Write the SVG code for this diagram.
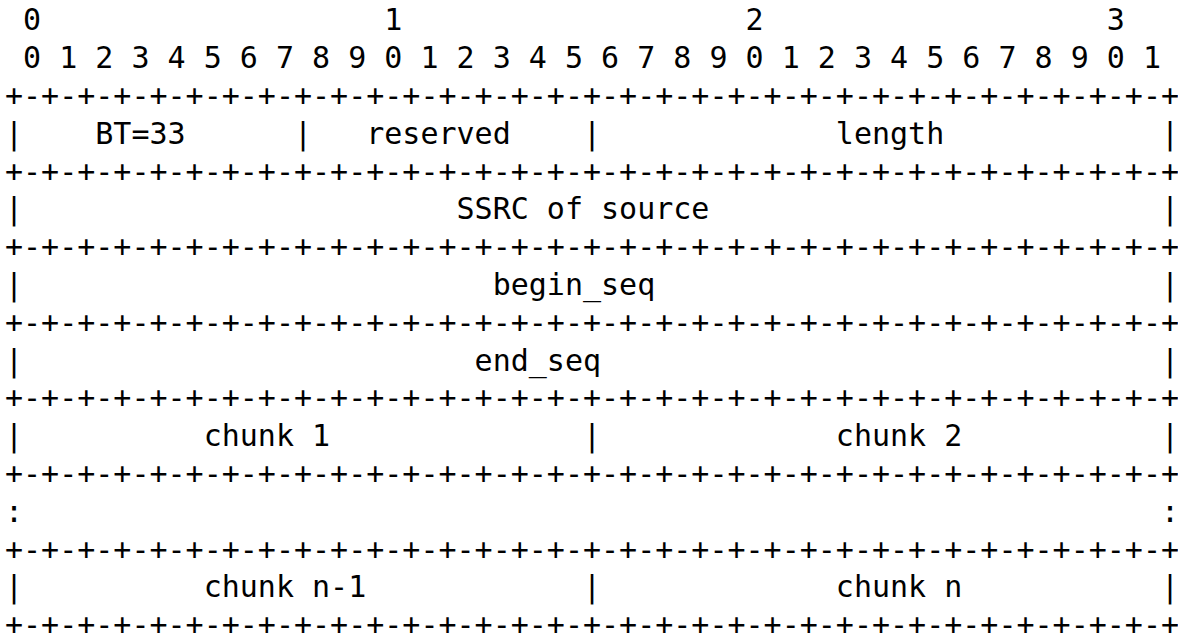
<svg xmlns="http://www.w3.org/2000/svg" width="1178" height="633" viewBox="0 0 1178 633">
  <style>
    .t { font-family: "DejaVu Sans Mono", "Liberation Mono", monospace; font-size: 30px; fill: #000; white-space: pre; }
  </style>
  <rect width="1178" height="633" fill="#fff"/>
  <!-- bit ruler -->
  <g id="ruler">
    <text class="t" x="5" y="30.4" xml:space="preserve"> 0                   1                   2                   3</text>
    <text class="t" x="5" y="68.2" xml:space="preserve"> 0 1 2 3 4 5 6 7 8 9 0 1 2 3 4 5 6 7 8 9 0 1 2 3 4 5 6 7 8 9 0 1</text>
  </g>
  <!-- row separators -->
  <g id="borders">
    <text class="t" x="5" y="106" xml:space="preserve">+-+-+-+-+-+-+-+-+-+-+-+-+-+-+-+-+-+-+-+-+-+-+-+-+-+-+-+-+-+-+-+-+</text>
    <text class="t" x="5" y="181.6" xml:space="preserve">+-+-+-+-+-+-+-+-+-+-+-+-+-+-+-+-+-+-+-+-+-+-+-+-+-+-+-+-+-+-+-+-+</text>
    <text class="t" x="5" y="257.2" xml:space="preserve">+-+-+-+-+-+-+-+-+-+-+-+-+-+-+-+-+-+-+-+-+-+-+-+-+-+-+-+-+-+-+-+-+</text>
    <text class="t" x="5" y="332.8" xml:space="preserve">+-+-+-+-+-+-+-+-+-+-+-+-+-+-+-+-+-+-+-+-+-+-+-+-+-+-+-+-+-+-+-+-+</text>
    <text class="t" x="5" y="408.4" xml:space="preserve">+-+-+-+-+-+-+-+-+-+-+-+-+-+-+-+-+-+-+-+-+-+-+-+-+-+-+-+-+-+-+-+-+</text>
    <text class="t" x="5" y="484" xml:space="preserve">+-+-+-+-+-+-+-+-+-+-+-+-+-+-+-+-+-+-+-+-+-+-+-+-+-+-+-+-+-+-+-+-+</text>
    <text class="t" x="5" y="559.6" xml:space="preserve">+-+-+-+-+-+-+-+-+-+-+-+-+-+-+-+-+-+-+-+-+-+-+-+-+-+-+-+-+-+-+-+-+</text>
    <text class="t" x="5" y="635.2" xml:space="preserve">+-+-+-+-+-+-+-+-+-+-+-+-+-+-+-+-+-+-+-+-+-+-+-+-+-+-+-+-+-+-+-+-+</text>
  </g>
  <!-- header fields -->
  <g id="row-header">
    <text class="t" x="5" y="143.8" xml:space="preserve">|    BT=33      |   reserved    |             length            |</text>
  </g>
  <g id="row-ssrc">
    <text class="t" x="5" y="219.4" xml:space="preserve">|                        SSRC of source                         |</text>
  </g>
  <g id="row-begin">
    <text class="t" x="5" y="295" xml:space="preserve">|                          begin_seq                            |</text>
  </g>
  <g id="row-end">
    <text class="t" x="5" y="370.6" xml:space="preserve">|                         end_seq                               |</text>
  </g>
  <g id="row-chunks">
    <text class="t" x="5" y="446.2" xml:space="preserve">|          chunk 1              |             chunk 2           |</text>
  </g>
  <g id="row-more">
    <text class="t" x="5" y="521.8" xml:space="preserve">:                                                               :</text>
  </g>
  <g id="row-last">
    <text class="t" x="5" y="597.4" xml:space="preserve">|          chunk n-1            |             chunk n           |</text>
  </g>
</svg>
